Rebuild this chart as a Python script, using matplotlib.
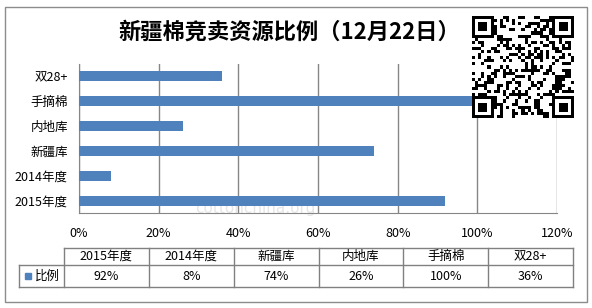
import numpy as np
import matplotlib
matplotlib.use('Agg')
import matplotlib.pyplot as plt
from matplotlib.patches import Rectangle
from matplotlib.lines import Line2D

plt.rcParams['font.family'] = ['Noto Sans CJK SC', 'DejaVu Sans']

# data (bottom to top on the chart)
categories = ['2015年度', '2014年度', '新疆库', '内地库', '手摘棉', '双28+']
values = [92, 8, 74, 26, 100, 36]
xticks = [0, 20, 40, 60, 80, 100, 120]
title = '新疆棉竞卖资源比例（12月22日）'
series_name = '比例'

W, H = 592, 308
bar_color = '#4F81BD'
grid_color = '#868686'

fig = plt.figure(figsize=(W / 100, H / 100), dpi=100)


def fx(x):
    return x / W


def fy(y):
    return 1 - y / H


# faint watermark text behind the chart
fig.text(fx(195), fy(208), 'cottonchina.org', fontsize=11, color='#e6e6e6',
         family='DejaVu Sans', va='center', zorder=-1)

# outer border
fig.patches.append(Rectangle((fx(5), fy(302)), fx(582), 295 / H, transform=fig.transFigure,
                             fill=False, ec='#8c8c8c', lw=1))

# main chart
ax = fig.add_axes([fx(79), fy(213), fx(557 - 79), (213 - 64) / H])
ax.patch.set_alpha(0)
ypos = np.arange(len(categories))
ax.barh(ypos, values, height=0.4, color=bar_color, zorder=3)
ax.set_xlim(0, 120)
ax.set_ylim(-0.5, len(categories) - 0.5)
ax.set_xticks(xticks)
ax.set_xticklabels([f'{t}%' for t in xticks], fontsize=9)
ax.set_yticks(ypos)
ax.set_yticklabels(categories, fontsize=9)
ax.tick_params(length=0, pad=8)
ax.tick_params(axis='x', pad=10)
ax.xaxis.grid(True, color=grid_color, lw=1)
ax.set_axisbelow(True)
for s in ['top', 'right']:
    ax.spines[s].set_visible(False)
for s in ['left', 'bottom']:
    ax.spines[s].set_color(grid_color)

fig.text(fx(289), fy(32), title, fontsize=16, fontweight='bold', ha='center', va='center')

# data table under the chart
tcol0, tcol1 = 64, 573
colw = (tcol1 - tcol0) / len(categories)
y_top, y_mid, y_bot = 248, 265, 287
lc = '#808080'


def hline(x0, x1, y):
    fig.lines.append(Line2D([fx(x0), fx(x1)], [fy(y), fy(y)], transform=fig.transFigure, color=lc, lw=1))


def vline(x, y0, y1):
    fig.lines.append(Line2D([fx(x), fx(x)], [fy(y0), fy(y1)], transform=fig.transFigure, color=lc, lw=1))


hline(tcol0, tcol1, y_top)
hline(19, tcol1, y_mid)
hline(19, tcol1, y_bot)
vline(19, y_mid, y_bot)
for i in range(len(categories) + 1):
    vline(tcol0 + i * colw, y_top, y_bot)
for i, (c, v) in enumerate(zip(categories, values)):
    xc = tcol0 + (i + 0.5) * colw
    fig.text(fx(xc), fy((y_top + y_mid) / 2), c, fontsize=9, ha='center', va='center')
    fig.text(fx(xc), fy((y_mid + y_bot) / 2), f'{v}%', fontsize=9, ha='center', va='center')
fig.patches.append(Rectangle((fx(25), fy(279)), 6 / W, 6 / H, transform=fig.transFigure,
                             color=bar_color))
fig.text(fx(35), fy((y_mid + y_bot) / 2), series_name, fontsize=9, va='center')

# QR-code-like block (decoration)
n = 33
ii, jj = np.meshgrid(np.arange(n), np.arange(n), indexing='ij')
qr = (((ii * 7 + jj * 11 + ii * jj * 3) ^ (ii * jj)) % 5 < 2).astype(float)
for r0, c0 in [(0, 0), (0, n - 7), (n - 7, 0), (n - 7, n - 7)]:
    blk = np.zeros((7, 7))
    blk[0, :] = blk[-1, :] = blk[:, 0] = blk[:, -1] = 1
    blk[2:5, 2:5] = 1
    qr[r0:r0 + 7, c0:c0 + 7] = blk
qax = fig.add_axes([fx(472), fy(118), 102 / W, 103 / H])
qax.imshow(qr, cmap='Greys', interpolation='nearest', vmin=0, vmax=1)
qax.axis('off')

fig.savefig('out.png', dpi=100, facecolor='white')
